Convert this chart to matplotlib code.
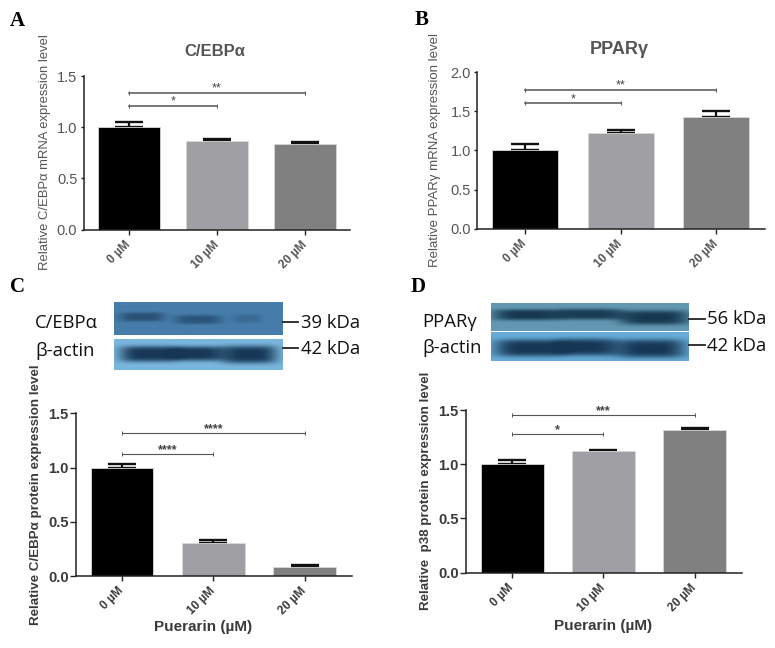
#!/usr/bin/env python3
import numpy as np
import matplotlib
matplotlib.use('Agg')
import matplotlib.pyplot as plt

W, H = 775, 648
plt.rcParams['font.family'] = ['Liberation Sans', 'DejaVu Sans']

groups = ['0 µM', '10 µM', '20 µM']
bar_colors = ['#000000', '#a0a0a4', '#808080']

# bar heights and top of the error bars
a_means = [1.00, 0.87, 0.84]
a_tops = [1.05, 0.89, 0.86]
b_means = [1.01, 1.22, 1.43]
b_tops = [1.08, 1.26, 1.51]
c_means = [1.00, 0.30, 0.08]
c_tops = [1.03, 0.335, 0.105]
d_means = [1.00, 1.12, 1.32]
d_tops = [1.035, 1.135, 1.33]

# significance brackets: (start group, end group, height, stars)
a_sig = [(0, 1, 1.207, '*'), (0, 2, 1.337, '**')]
b_sig = [(0, 1, 1.604, '*'), (0, 2, 1.774, '**')]
c_sig = [(0, 1, 1.125, '****'), (0, 2, 1.316, '****')]
d_sig = [(0, 1, 1.275, '*'), (0, 2, 1.454, '***')]

a_ticks = [0.0, 0.5, 1.0, 1.5]
b_ticks = [0.0, 0.5, 1.0, 1.5, 2.0]

# blot bands: centre x, half width, centre y, half height, darkness (fractions of the strip)
c_top_bands = [(0.166, 0.135, 0.45, 0.14, 0.70), (0.497, 0.14, 0.53, 0.14, 0.65), (0.787, 0.085, 0.50, 0.13, 0.30)]
c_actin_bands = [(0.205, 0.17, 0.48, 0.26, 1.0), (0.49, 0.155, 0.47, 0.24, 1.0), (0.80, 0.165, 0.50, 0.29, 1.0)]
d_top_bands = [(0.185, 0.175, 0.42, 0.20, 1.0), (0.50, 0.165, 0.40, 0.20, 0.95), (0.825, 0.175, 0.52, 0.26, 1.0)]
d_actin_bands = [(0.193, 0.175, 0.55, 0.30, 1.0), (0.48, 0.155, 0.52, 0.30, 1.0), (0.805, 0.175, 0.57, 0.32, 1.0)]

fig = plt.figure(figsize=(W / 100, H / 100), dpi=100, facecolor='white')


def draw_panel(left, right, y0, ytop, centres, barw, means, tops, sig, ticks, ylab, ylab_x, ylab_y,
               ylab_size, title=None, title_xy=None, title_size=12, xlabel=None, xlabel_xy=None, bold=False,
               col='#3a3a3a', tick_len=2.5, tick_pad=2, line_w=1.0):
    ax = fig.add_axes([left / W, 1 - y0 / H, (right - left) / W, (y0 - ytop) / H])
    step = centres[1] - centres[0]
    ax.set_xlim((left - centres[0]) / step, (right - centres[0]) / step)
    ax.set_ylim(0, ticks[-1])
    x = np.arange(3)
    ax.bar(x, means, width=barw / step, color=bar_colors, edgecolor='#d8d8d8', linewidth=0.6, zorder=2)
    # only the upper half of the error bar shows
    ax.errorbar(x, means, yerr=[np.zeros(3), np.array(tops) - np.array(means)], fmt='none', ecolor='#111111',
                elinewidth=1.6, capsize=10.4, capthick=1.7, zorder=1)
    for s, e, h, stars in sig:
        ax.plot([s, e], [h, h], color='#555555', lw=line_w, marker='|', ms=2.5, mew=0.7, clip_on=False)
        ax.text((s + e) / 2, h - 0.012 * ticks[-1], stars, ha='center', va='bottom', fontsize=9, color='#444444',
                fontweight='bold' if bold else 'normal')
    for sp in ['top', 'right']:
        ax.spines[sp].set_visible(False)
    for sp in ['left', 'bottom']:
        ax.spines[sp].set_linewidth(1.1)
        ax.spines[sp].set_color('#222222')
    ax.set_yticks(ticks)
    ax.set_yticklabels(['%.1f' % t for t in ticks], fontsize=10.5, color=col, fontweight='bold' if bold else 'normal')
    ax.set_xticks(x)
    ax.set_xticklabels(groups, rotation=45, ha='right', va='center', rotation_mode='anchor', fontsize=8.6,
                       fontweight='bold', color=col)
    ax.tick_params(axis='y', length=tick_len, width=1.0, color='#222222', pad=tick_pad)
    ax.tick_params(axis='x', length=3.6, width=1.0, color='#222222', pad=6)
    over.text(ylab_x, ylab_y, ylab, rotation=90, ha='center', va='center', fontsize=ylab_size, color=col,
              fontweight='bold' if bold else 'normal')
    if title:
        over.text(title_xy[0], title_xy[1], title, ha='center', va='center', fontsize=title_size, fontweight='bold', color=col)
    if xlabel:
        over.text(xlabel_xy[0], xlabel_xy[1], xlabel, ha='center', va='center', fontsize=11, fontweight='bold', color=col)


def draw_blot(x1, x2, y1, y2, bg, dark, bands):
    xx, yy = np.meshgrid(np.linspace(0, 1, 300), np.linspace(0, 1, 80))
    amount = np.zeros_like(xx)
    for cx, hw, cy, hh, strength in bands:
        amount += strength * np.exp(-((xx - cx) / hw) ** 4 - ((yy - cy) / hh) ** 4)
    amount = np.clip(amount, 0, 1)
    bg = np.array(bg) / 255
    dark = np.array(dark) / 255
    img = bg[None, None, :] * (1 - amount[..., None]) + dark[None, None, :] * amount[..., None]
    over.imshow(img, extent=[x1, x2, y2, y1], aspect='auto', interpolation='bilinear', zorder=1)


# full-figure overlay in pixel coordinates for the blots and the loose text
over = fig.add_axes([0, 0, 1, 1], zorder=5)
over.patch.set_alpha(0)
over.axis('off')

draw_panel(83.5, 350, 229.7, 76, [129, 217, 305.7], 61.7, a_means, a_tops, a_sig, a_ticks,
           'Relative C/EBPα mRNA expression level', 45, 152, 9.4, title='C/EBPα', title_xy=(215, 52), title_size=12,
           col='#555555', line_w=1.1)
draw_panel(477, 765, 228.7, 72.3, [525, 620.7, 716], 66, b_means, b_tops, b_sig, b_ticks,
           'Relative PPARγ mRNA expression level', 435, 150, 9.5, title='PPARγ', title_xy=(619, 49), title_size=13,
           col='#555555', line_w=1.1)
draw_panel(76.3, 351.7, 576, 413.3, [122, 213.3, 305], 63, c_means, c_tops, c_sig, a_ticks,
           'Relative C/EBPα protein expression level', 36, 495, 9.6, xlabel='Puerarin (µM)', xlabel_xy=(203, 627),
           bold=True, col='#3a3a3a', tick_len=4.5, tick_pad=1, line_w=0.8)
draw_panel(466.3, 741.7, 572.7, 410, [512, 603.3, 695], 63, d_means, d_tops, d_sig, a_ticks,
           'Relative  p38 protein expression level', 426, 491, 9.6, xlabel='Puerarin (µM)', xlabel_xy=(603, 626),
           bold=True, col='#3a3a3a', tick_len=4.5, tick_pad=1, line_w=0.8)

draw_blot(113.7, 282.7, 302.7, 335, (70, 125, 170), (28, 62, 95), c_top_bands)
draw_blot(113.7, 282.7, 339.3, 370, (122, 182, 222), (22, 55, 85), c_actin_bands)
draw_blot(490.7, 687.7, 303.3, 331, (98, 152, 178), (22, 55, 80), d_top_bands)
draw_blot(490.7, 687.7, 332.7, 361, (102, 172, 216), (22, 55, 85), d_actin_bands)

for txt, x, y in [('A', 10, 20.5), ('B', 415, 20), ('C', 10, 287), ('D', 411, 287)]:
    over.text(x, y, txt, ha='left', va='center', fontsize=15, fontweight='bold', family='Liberation Serif', color='black')

blot_font = 'Open Sans'
for txt, x, y in [('C/EBPα', 35, 323), ('β-actin', 35, 351), ('39 kDa', 301, 323), ('42 kDa', 301, 349),
                  ('PPARγ', 422.7, 322), ('β-actin', 422.7, 348), ('56 kDa', 707, 319), ('42 kDa', 707, 346)]:
    over.text(x, y, txt, ha='left', va='center', fontsize=13.3, family=blot_font, color='#111111')

for x1, x2, y in [(283, 298, 322), (283, 298, 348), (689, 705, 319), (689, 705, 345)]:
    over.plot([x1, x2], [y, y], color='#222222', lw=1.3)

over.set_xlim(0, W)
over.set_ylim(H, 0)

fig.savefig('out.png', dpi=100)
